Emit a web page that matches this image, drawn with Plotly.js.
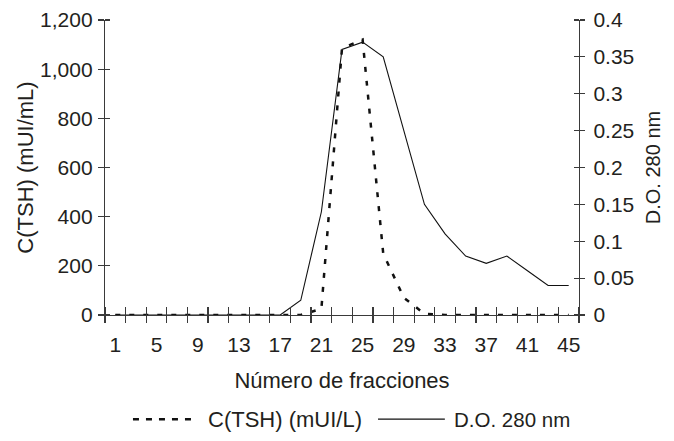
<!DOCTYPE html>
<html>
<head>
<meta charset="utf-8">
<script src="https://cdn.plot.ly/plotly-3.0.1.min.js"></script>
<style>html,body{margin:0;padding:0;background:#fff;}#chart{width:674px;height:441px;}</style>
</head>
<body>
<div id="chart"></div>
<script>
// Data
var fractions = [1,3,5,7,9,11,13,15,17,19,21,23,25,27,29,31,33,35,37,39,41,43,45];
var tshValues = [0,0,0,0,0,0,0,0,0,0,25,1085,1120,250,70,5,0,0,0,0,0,0,0];
var odValues  = [0,0,0,0,0,0,0,0,0,0.02,0.14,0.36,0.37,0.35,0.25,0.15,0.11,0.08,0.07,0.08,0.06,0.04,0.04];
var xTickVals = [1,5,9,13,17,21,25,29,33,37,41,45];
var xTickText = ['1','5','9','13','17','21','25','29','33','37','41','45'];
var seriesNames = ['C(TSH) (mUI/L)', 'D.O. 280 nm'];

var ink = '#231f20';
var axisCol = '#3a3a3a';
var fontFam = 'Liberation Sans, Arial, sans-serif';
var fs = 21;
var nb = '\u00a0';

var traces = [
  {x: fractions, y: tshValues, type: 'scatter', mode: 'lines', name: seriesNames[0],
   xaxis: 'x', yaxis: 'y', line: {color: '#111', width: 2.5, dash: '5px,9px'}, hoverinfo: 'skip'},
  {x: fractions, y: odValues, type: 'scatter', mode: 'lines', name: seriesNames[1],
   xaxis: 'x2', yaxis: 'y2', line: {color: '#111', width: 1.1}, hoverinfo: 'skip'}
];

var xr = [0, 46];
var layout = {
  width: 674, height: 441,
  margin: {l: 105, r: 95, t: 20, b: 126},
  paper_bgcolor: '#fff', plot_bgcolor: 'rgba(0,0,0,0)',
  showlegend: false,
  font: {family: fontFam, size: fs, color: ink},
  // boundary ticks (crossing the axis line)
  xaxis: {
    range: xr, tickmode: 'linear', tick0: 0, dtick: 2,
    ticks: 'outside', ticklen: 7, tickwidth: 1.2, tickcolor: axisCol,
    minor: {tickmode: 'linear', tick0: 0.0001, dtick: 2, ticks: 'inside', ticklen: 8, tickwidth: 1.2, tickcolor: axisCol, showgrid: false},
    showticklabels: false,
    showline: true, linecolor: axisCol, linewidth: 1.2,
    showgrid: false, zeroline: false, fixedrange: true
  },
  // labelled fractions
  xaxis2: {
    overlaying: 'x', anchor: 'y', side: 'bottom', range: xr,
    tickmode: 'array', tickvals: xTickVals, ticktext: xTickText,
    ticks: 'outside', ticklen: 7, tickcolor: 'rgba(0,0,0,0)', ticklabelstandoff: 4,
    showline: false, showgrid: false, zeroline: false, fixedrange: true,
    title: {text: 'Número de fracciones' + nb + nb + nb, font: {size: 22, color: ink}, standoff: 17}
  },
  yaxis: {
    range: [0, 1200], tickmode: 'linear', tick0: 0, dtick: 200, tickformat: ',d',
    ticks: 'outside', ticklen: 6, tickwidth: 1.2, tickcolor: axisCol,
    minor: {tickmode: 'linear', tick0: 0.01, dtick: 200, ticks: 'inside', ticklen: 5, tickwidth: 1.2, tickcolor: axisCol, showgrid: false},
    ticklabelstandoff: 1,
    showline: true, linecolor: axisCol, linewidth: 1.2,
    showgrid: false, zeroline: false, fixedrange: true,
    title: {text: nb + nb + 'C(TSH) (mUI/mL)', font: {size: 22, color: ink}, standoff: 0}
  },
  yaxis2: {
    overlaying: 'y', anchor: 'x2', side: 'right', range: [0, 0.4], tickmode: 'linear', tick0: 0, dtick: 0.05,
    ticks: 'outside', ticklen: 5, tickwidth: 1.2, tickcolor: axisCol,
    minor: {tickmode: 'linear', tick0: 0.000001, dtick: 0.05, ticks: 'inside', ticklen: 5, tickwidth: 1.2, tickcolor: axisCol, showgrid: false},
    ticklabelstandoff: 4,
    showline: true, linecolor: axisCol, linewidth: 1.2,
    showgrid: false, zeroline: false, fixedrange: true,
    title: {text: 'D.O. 280 nm' + nb + nb + nb + nb, font: {size: 20, color: ink}, standoff: 12}
  },
  shapes: [
    {type: 'line', xref: 'paper', yref: 'paper', x0: 0.059, x1: 0.194, y0: -0.353, y1: -0.353,
     line: {color: '#111', width: 2.5, dash: '6px,7px'}},
    {type: 'line', xref: 'paper', yref: 'paper', x0: 0.576, x1: 0.717, y0: -0.353, y1: -0.353,
     line: {color: '#111', width: 1.1}}
  ],
  annotations: [
    {xref: 'paper', yref: 'paper', x: 0.213, y: -0.353, xanchor: 'left', yanchor: 'middle',
     text: seriesNames[0], showarrow: false, font: {size: 22, color: ink}},
    {xref: 'paper', yref: 'paper', x: 0.733, y: -0.353, xanchor: 'left', yanchor: 'middle',
     text: seriesNames[1], showarrow: false, font: {size: 20.5, color: ink}}
  ]
};

Plotly.newPlot('chart', traces, layout, {displayModeBar: false, staticPlot: true});
</script>
</body>
</html>
